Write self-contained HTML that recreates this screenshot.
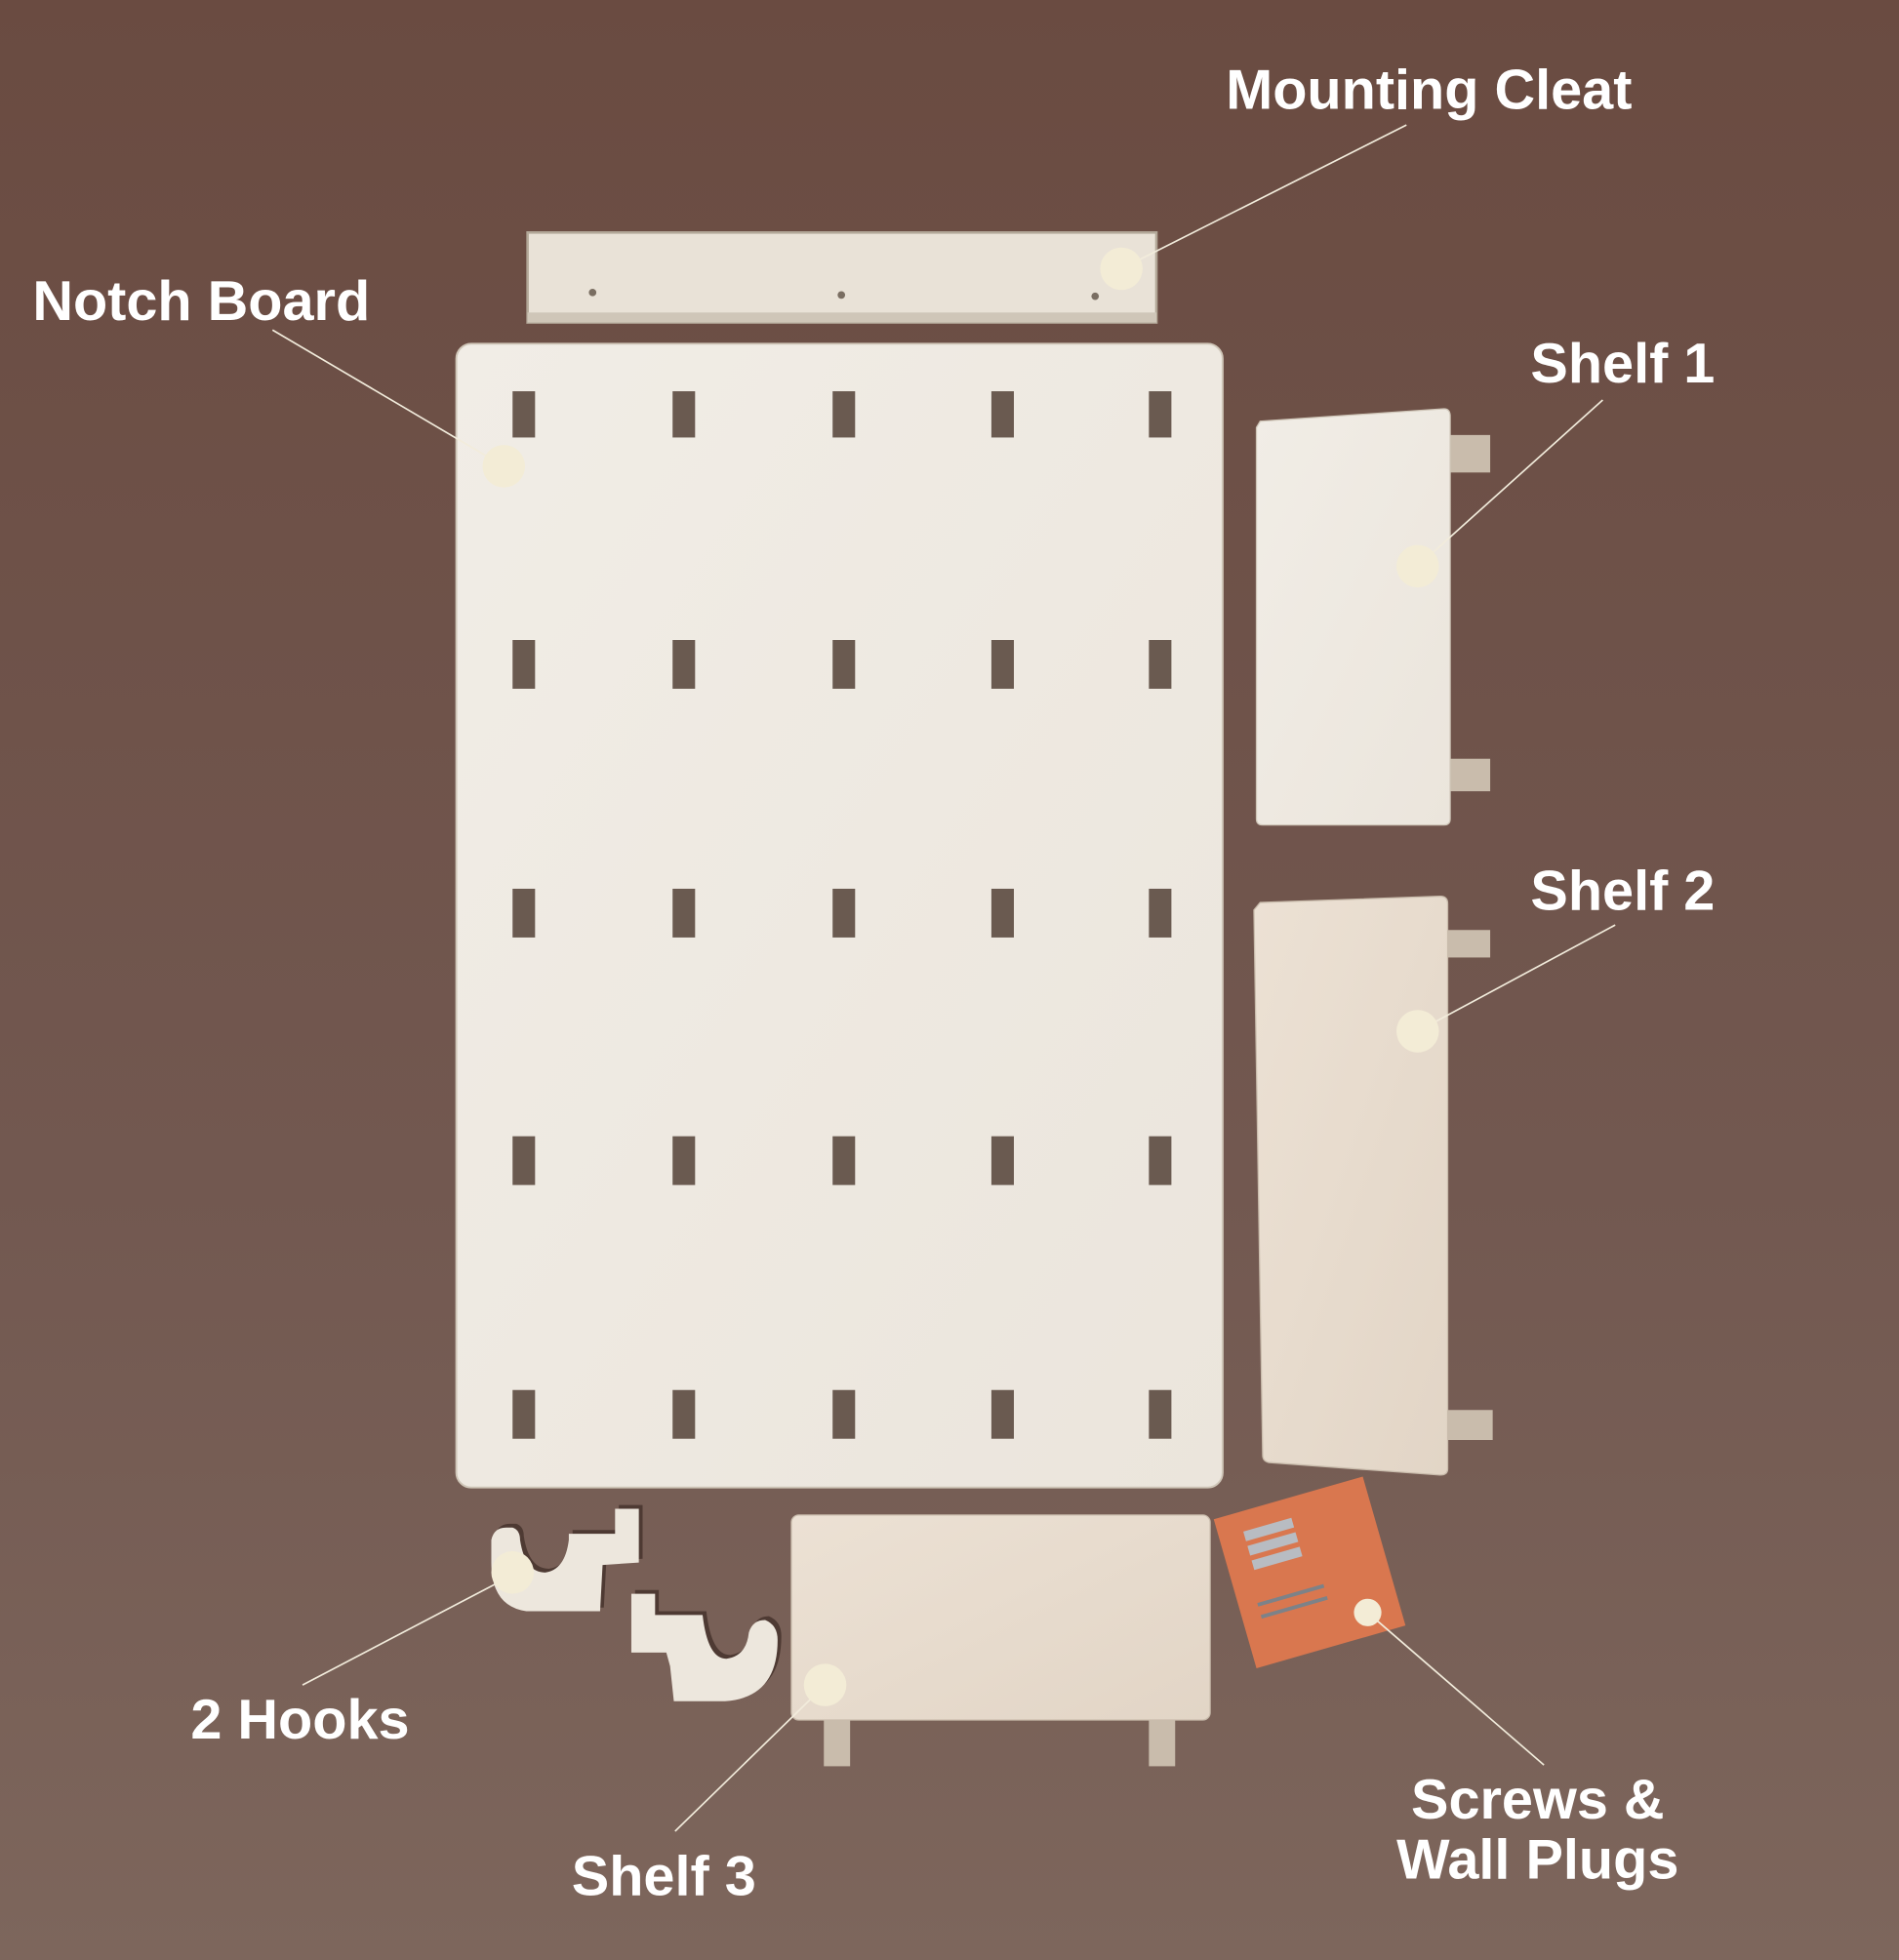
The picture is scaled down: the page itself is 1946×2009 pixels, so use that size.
<!DOCTYPE html>
<html><head><meta charset="utf-8"><style>
html,body{margin:0;padding:0;width:1946px;height:2009px;overflow:hidden;background:#6e5147}
svg{display:block}
text{font-family:"Liberation Sans",sans-serif;font-weight:bold;fill:#fff}
</style></head><body>
<svg width="1946" height="2009" viewBox="0 0 1519 1568" preserveAspectRatio="none" xmlns="http://www.w3.org/2000/svg">
<defs>
<linearGradient id="bg" x1="0" y1="0" x2="0" y2="1">
<stop offset="0" stop-color="#6a4b41"/><stop offset="0.6" stop-color="#725850"/><stop offset="1" stop-color="#7d665c"/>
</linearGradient>
<linearGradient id="wood" x1="0" y1="0" x2="1" y2="1">
<stop offset="0" stop-color="#f1ede6"/><stop offset="1" stop-color="#ebe5dc"/>
</linearGradient>
<linearGradient id="wood2" x1="0" y1="0" x2="1" y2="1">
<stop offset="0" stop-color="#ece1d4"/><stop offset="1" stop-color="#e2d5c6"/>
</linearGradient>
</defs>
<rect width="1519" height="1568" fill="url(#bg)"/>
<!-- cleat -->
<rect x="422" y="186" width="503" height="72" fill="#e9e2d7" stroke="#b3a898" stroke-width="2"/>
<rect x="422" y="250" width="503" height="8" fill="#cfc6b8"/>
<circle cx="474" cy="234" r="3" fill="#7a6e62"/><circle cx="673" cy="236" r="3" fill="#7a6e62"/><circle cx="876" cy="237" r="3" fill="#7a6e62"/>
<!-- notch board -->
<rect x="365" y="275" width="613" height="915" rx="12" fill="url(#wood)" stroke="#cfc6b8" stroke-width="1.5"/>
<g fill="#6a5a50">
<rect x="410" y="313" width="18" height="37"/><rect x="538" y="313" width="18" height="37"/><rect x="666" y="313" width="18" height="37"/><rect x="793" y="313" width="18" height="37"/><rect x="919" y="313" width="18" height="37"/>
<rect x="410" y="512" width="18" height="39"/><rect x="538" y="512" width="18" height="39"/><rect x="666" y="512" width="18" height="39"/><rect x="793" y="512" width="18" height="39"/><rect x="919" y="512" width="18" height="39"/>
<rect x="410" y="711" width="18" height="39"/><rect x="538" y="711" width="18" height="39"/><rect x="666" y="711" width="18" height="39"/><rect x="793" y="711" width="18" height="39"/><rect x="919" y="711" width="18" height="39"/>
<rect x="410" y="909" width="18" height="39"/><rect x="538" y="909" width="18" height="39"/><rect x="666" y="909" width="18" height="39"/><rect x="793" y="909" width="18" height="39"/><rect x="919" y="909" width="18" height="39"/>
<rect x="410" y="1112" width="18" height="39"/><rect x="538" y="1112" width="18" height="39"/><rect x="666" y="1112" width="18" height="39"/><rect x="793" y="1112" width="18" height="39"/><rect x="919" y="1112" width="18" height="39"/>
</g>
<!-- shelf 1 -->
<rect x="1160" y="348" width="32" height="30" fill="#c9bcac"/><rect x="1160" y="607" width="32" height="26" fill="#c9bcac"/>
<path d="M1008 337 L1155 327 Q1160 327 1160 333 L1160 655 Q1160 660 1155 660 L1010 660 Q1005 660 1005 655 L1005 342 Z" fill="url(#wood)" stroke="#cfc6b8"/>
<!-- shelf 2 -->
<rect x="1158" y="744" width="34" height="22" fill="#c9bcac"/><rect x="1158" y="1128" width="36" height="24" fill="#c9bcac"/>
<path d="M1008 722 L1152 717 Q1158 717 1158 723 L1158 1175 Q1158 1180 1152 1180 L1015 1170 Q1010 1169 1010 1164 L1003 728 Z" fill="url(#wood2)" stroke="#c9bcac"/>
<!-- shelf 3 -->
<rect x="659" y="1376" width="21" height="37" fill="#c9bcac"/><rect x="919" y="1376" width="21" height="37" fill="#c9bcac"/>
<rect x="633" y="1212" width="335" height="164" rx="6" fill="url(#wood2)" stroke="#c9bcac"/>
<!-- hooks -->
<g transform="translate(3,-3)" fill="#4e3a33">
<path d="M393 1232 Q395 1222 405 1222 L410 1222 Q416 1224 416 1232 Q420 1258 436 1258 Q452 1256 455 1232 L455 1227 L492 1227 L492 1207 L511 1207 L511 1250 L482 1252 L480 1289 L421 1289 Q393 1285 393 1250 Z"/>
<path d="M505 1275 L524 1275 L524 1292 L562 1292 Q566 1327 581 1327 Q597 1325 599 1306 Q602 1296 612 1296 Q622 1300 622 1312 Q622 1358 580 1361 L539 1361 L536 1333 L533 1322 L505 1322 Z"/>
</g>
<g fill="#ede7dd">
<path d="M393 1232 Q395 1222 405 1222 L410 1222 Q416 1224 416 1232 Q420 1258 436 1258 Q452 1256 455 1232 L455 1227 L492 1227 L492 1207 L511 1207 L511 1250 L482 1252 L480 1289 L421 1289 Q393 1285 393 1250 Z"/>
<path d="M505 1275 L524 1275 L524 1292 L562 1292 Q566 1327 581 1327 Q597 1325 599 1306 Q602 1296 612 1296 Q622 1300 622 1312 Q622 1358 580 1361 L539 1361 L536 1333 L533 1322 L505 1322 Z"/>
</g>
<!-- card -->
<g transform="rotate(-16 1047 1256)">
<rect x="985" y="1196" width="124" height="124" fill="#d9774f"/>
<rect x="1005" y="1212" width="40" height="8" fill="#b8bcc2"/><rect x="1005" y="1224" width="40" height="8" fill="#b8bcc2"/><rect x="1005" y="1236" width="40" height="8" fill="#b8bcc2"/>
<rect x="1000" y="1270" width="55" height="3" fill="#7d8288"/><rect x="1000" y="1280" width="55" height="3" fill="#7d8288"/>
</g>
<!-- connector lines -->
<g stroke="#f2ecdc" stroke-width="1.3" fill="none">
<line x1="897" y1="215" x2="1125" y2="100"/>
<line x1="403" y1="373" x2="218" y2="264"/>
<line x1="1134" y1="453" x2="1282" y2="320"/>
<line x1="1134" y1="825" x2="1292" y2="740"/>
<line x1="410" y1="1260" x2="242" y2="1348"/>
<line x1="660" y1="1348" x2="540" y2="1465"/>
<line x1="1094" y1="1290" x2="1235" y2="1412"/>
</g>
<g fill="#f3ecd6">
<circle cx="897" cy="215" r="17"/><circle cx="403" cy="373" r="17"/><circle cx="1134" cy="453" r="17"/><circle cx="1134" cy="825" r="17"/>
<circle cx="410" cy="1258" r="17"/><circle cx="660" cy="1348" r="17"/><circle cx="1094" cy="1290" r="11"/>
</g>
<!-- labels -->
<text x="1143" y="87" font-size="45" text-anchor="middle">Mounting Cleat</text>
<text x="161" y="256" font-size="45" text-anchor="middle">Notch Board</text>
<text x="1298" y="306" font-size="45" text-anchor="middle">Shelf 1</text>
<text x="1298" y="728" font-size="45" text-anchor="middle">Shelf 2</text>
<text x="240" y="1391" font-size="45" text-anchor="middle">2 Hooks</text>
<text x="531" y="1516" font-size="45" text-anchor="middle">Shelf 3</text>
<text x="1230" y="1455" font-size="45" text-anchor="middle">Screws &amp;</text>
<text x="1230" y="1503" font-size="45" text-anchor="middle">Wall Plugs</text>
</svg>
</body></html>
